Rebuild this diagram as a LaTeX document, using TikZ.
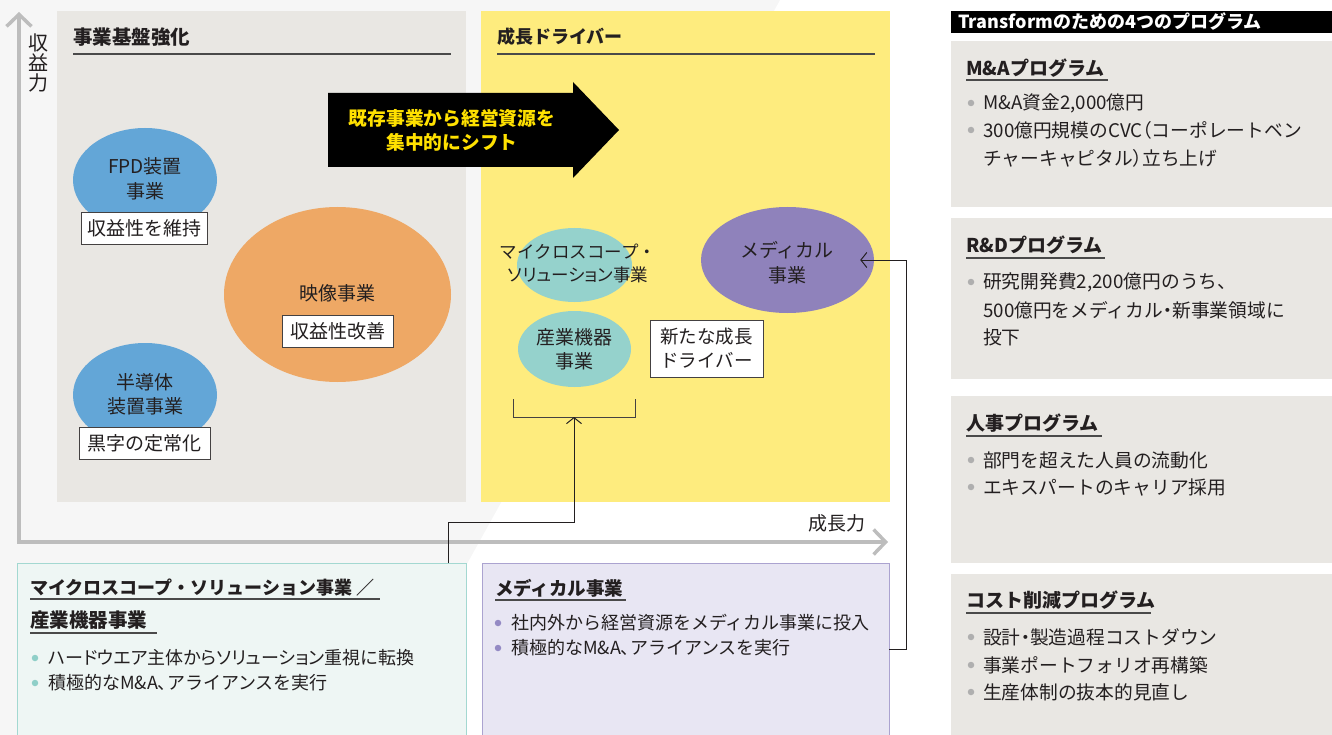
\documentclass[tikz,border=0pt]{standalone}
\usepackage{fontspec}
\setmainfont{Noto Sans CJK JP}
\newcommand\hp[1]{{\addfontfeature{RawFeature={+palt}}#1}}
\usetikzlibrary{shapes.geometric,arrows.meta,calc}
\definecolor{ink}{HTML}{231F20}
\definecolor{panelgray}{HTML}{E9E7E3}
\definecolor{ylw}{HTML}{FEEC7E}
\definecolor{arrowyellow}{HTML}{FFE100}
\definecolor{blue1}{HTML}{63A6D7}
\definecolor{orange1}{HTML}{EEA865}
\definecolor{teal1}{HTML}{95D2CC}
\definecolor{purple1}{HTML}{8F82BB}
\definecolor{tealbg}{HTML}{EEF6F4}
\definecolor{tealbd}{HTML}{A3D8D1}
\definecolor{lavbg}{HTML}{E8E6F3}
\definecolor{lavbd}{HTML}{ABA3D0}
\definecolor{axisgray}{HTML}{BDBDBD}
\definecolor{ulgray}{HTML}{4A4A4A}
\definecolor{dotgray}{HTML}{AFAFAF}
\definecolor{tealdot}{HTML}{8FCFC8}
\definecolor{purpledot}{HTML}{948AC4}
\definecolor{bgshade}{HTML}{F6F6F6}
\tikzset{
  base/.style={inner sep=0pt, text=ink},
  body/.style={base, anchor=west, font=\fontsize{18.75}{27.5}\selectfont},
  bbody/.style={base, anchor=west, font=\fontsize{18}{25}\selectfont},
  phead/.style={base, anchor=west, font=\fontsize{19}{24}\selectfont\bfseries},
  ul/.style={line width=1.4pt, draw=ulgray},
  bullet/.style={circle, inner sep=0pt, minimum size=6.5pt},
  panel/.style={anchor=north west, inner sep=0pt},
  label/.style={base, font=\fontsize{19}{24.5}\selectfont, align=center},
  tag/.style={draw=ink!85, fill=white, line width=0.9pt, inner sep=0pt, minimum height=32pt, text=ink, font=\fontsize{19}{24}\selectfont, align=center},
  bub/.style={ellipse, inner sep=0pt, draw=none},
  conn/.style={draw=ink, line width=1pt, -{Straight Barb[length=6pt,width=15pt]}},
  axis/.style={draw=axisgray, line width=3.5pt, {Straight Barb[length=12pt,width=25pt]}-{Straight Barb[length=12pt,width=25pt]}},
}
\begin{document}
\begin{tikzpicture}[x=1pt,y=-1pt]
\useasboundingbox (0,0) rectangle (1332,735);
\fill[bgshade] (0,0) -- (780,0) -- (372,735) -- (0,735) -- cycle;

% main panels
\node[panel, fill=panelgray, minimum width=409pt, minimum height=491pt] (basepanel) at (57,11) {};
\node[panel, fill=ylw, minimum width=409pt, minimum height=491pt] (growpanel) at (481,11) {};
\node[phead, font=\fontsize{19.5}{24}\selectfont\bfseries] (baseh) at (73,37) {事業基盤強化};
\draw[ul] (73,54) -- (451,54);
\node[phead, font=\fontsize{18}{24}\selectfont\bfseries] (growh) at (497,37) {成長ドライバー};
\draw[ul] (497,54) -- (875,54);

% big black arrow
\fill[black] (328,93) -- (573,93) -- (573,82) -- (619,130) -- (573,178) -- (573,167) -- (328,167) -- cycle;
\node[base, font=\fontsize{18.75}{24}\selectfont\bfseries, text=arrowyellow, align=center] (shift) at (452,130) {既存事業から経営資源を\\集中的にシフト};

% left bubbles
\node[bub, fill=blue1, minimum width=144pt, minimum height=104pt] (fpd) at (145,180) {};
\node[label] (fpdt) at (145,179) {FPD装置\\事業};
\node[tag, minimum width=126pt] (fpdtag) at (144,228) {収益性を維持};

\node[bub, fill=blue1, minimum width=144pt, minimum height=104pt] (semi) at (145,395) {};
\node[label] (semit) at (145,394.5) {半導体\\装置事業};
\node[tag, minimum width=131pt] (semitag) at (144.5,443.5) {黒字の定常化};

\node[bub, fill=orange1, minimum width=227pt, minimum height=175pt] (video) at (337.5,294.5) {};
\node[label] (videot) at (337.5,293) {映像事業};
\node[tag, minimum width=111pt] (videotag) at (337.5,331.5) {収益性改善};

% growth bubbles
\node[bub, fill=teal1, minimum width=115pt, minimum height=74pt] (micro) at (574.5,265) {};
\node[label, font=\fontsize{17.5}{23}\selectfont] (microt) at (578,263.5) {マイクロスコープ・\\\hp{ソリューション事業}};
\node[bub, fill=teal1, minimum width=113pt, minimum height=76pt] (indus) at (574.5,349) {};
\node[label] (indust) at (574.5,349.5) {産業機器\\事業};
\node[bub, fill=purple1, minimum width=173pt, minimum height=106pt] (med) at (787.5,260) {};
\node[label] (medt) at (787,262.5) {メディカル\\事業};
\node[tag, minimum width=113pt, minimum height=57pt, font=\fontsize{18.5}{24}\selectfont] (newdrv) at (706.5,348.5) {新たな成長\\ドライバー};

% bracket
\draw[draw=ink!85, line width=1pt] (513,399) -- (513,417) -- (635,417) -- (635,399);
\coordinate (brk) at (574,417);

% axes
\coordinate (ytop) at (19,12);
\coordinate (org) at (19,542);
\coordinate (xend) at (888,542);
\draw[axis] (ytop) -- (org) -- (xend);
\node[label, font=\fontsize{20}{20}\selectfont] (ylab) at (38,63) {収\\益\\力};
\node[label] (xlab) at (837,523) {成長力};

% bottom boxes
\node[panel, fill=tealbg, draw=tealbd, line width=1.2pt, minimum width=449pt, minimum height=185pt] (bl) at (17,563) {};
\node[panel, fill=lavbg, draw=lavbd, line width=1.2pt, minimum width=407pt, minimum height=185pt] (bm) at (482,563) {};

\node[phead, font=\fontsize{18}{24}\selectfont\bfseries] (blh1) at (30,588) {マイクロスコープ・ソリューション事業 ／};
\draw[ul] (30,599) -- (380,599);
\node[phead, font=\fontsize{19.5}{24}\selectfont\bfseries] (blh2) at (30,620) {産業機器事業};
\draw[ul] (30,633) -- (157,633);
\node[bullet, fill=tealdot] (bld1) at (35,658) {};
\node[bbody] (blb1) at (48,658) {\hp{ハードウエア主体からソリューション重視に転換}};
\node[bullet, fill=tealdot] (bld2) at (35,683) {};
\node[bbody] (blb2) at (48,683) {積極的なM\&A\hp{、}アライアンスを実行};

\node[phead, font=\fontsize{18.5}{24}\selectfont\bfseries] (bmh) at (495,588) {メディカル事業};
\draw[ul] (495,600) -- (626,600);
\node[bullet, fill=purpledot] (bmd1) at (498,623) {};
\node[bbody] (bmb1) at (511,623) {社内外から経営資源をメディカル事業に投入};
\node[bullet, fill=purpledot] (bmd2) at (498,648) {};
\node[bbody] (bmb2) at (511,648) {積極的なM\&A\hp{、}アライアンスを実行};

% connectors
\coordinate (blport) at (448,563);
\draw[conn] (blport) -- ++(0,-41) -| (brk);
\coordinate (bmport) at (889,649);
\draw[conn] (bmport) -- ++(17,0) |- ([xshift=-14pt]med.east);

% right panel
\node[panel, fill=black, minimum width=381pt, minimum height=22pt] (rbar) at (951,11) {};
\node[base, anchor=west, text=white, font=\fontsize{18}{22}\selectfont\bfseries] (rbart) at (958,22) {Transformのための4つのプログラム};

\node[panel, fill=panelgray, minimum width=381pt, minimum height=166pt] (p1) at (951,41) {};
\node[panel, fill=panelgray, minimum width=381pt, minimum height=161pt] (p2) at (951,218) {};
\node[panel, fill=panelgray, minimum width=381pt, minimum height=167pt] (p3) at (951,396) {};
\node[panel, fill=panelgray, minimum width=381pt, minimum height=170pt] (p4) at (951,574) {};

\node[phead] (h1) at (966,68) {M\&Aプログラム};
\draw[ul] (966,80) -- (1108,80);
\node[bullet, fill=dotgray] (d11) at (971,103) {};
\node[body] (t11) at (983,103) {M\&A資金2,000億円};
\node[bullet, fill=dotgray] (d12) at (971,130) {};
\node[body] (t12) at (983,130) {300億円規模のCVC\hp{（}コーポレートベン};
\node[body] (t13) at (983,158) {チャーキャピタル\hp{）}立ち上げ};

\node[phead] (h2) at (966,245) {R\&Dプログラム};
\draw[ul] (966,258) -- (1105,258);
\node[bullet, fill=dotgray] (d21) at (971,282) {};
\node[body] (t21) at (983,282) {研究開発費2,200億円のうち、};
\node[body] (t22) at (983,310) {500億円をメディカル\hp{・}新事業領域に};
\node[body] (t23) at (983,337) {投下};

\node[phead] (h3) at (966,423) {人事プログラム};
\draw[ul] (966,436) -- (1102,436);
\node[bullet, fill=dotgray] (d31) at (971,460) {};
\node[body] (t31) at (983,460) {部門を超えた人員の流動化};
\node[bullet, fill=dotgray] (d32) at (971,487) {};
\node[body] (t32) at (983,487) {エキスパートのキャリア採用};

\node[phead] (h4) at (966,600) {コスト削減プログラム};
\draw[ul] (966,613) -- (1151,613);
\node[bullet, fill=dotgray] (d41) at (971,637) {};
\node[body] (t41) at (983,637) {設計\hp{・}製造過程コストダウン};
\node[bullet, fill=dotgray] (d42) at (971,665) {};
\node[body] (t42) at (983,665) {事業ポートフォリオ再構築};
\node[bullet, fill=dotgray] (d43) at (971,692) {};
\node[body] (t43) at (983,692) {生産体制の抜本的見直し};
\end{tikzpicture}
\end{document}
